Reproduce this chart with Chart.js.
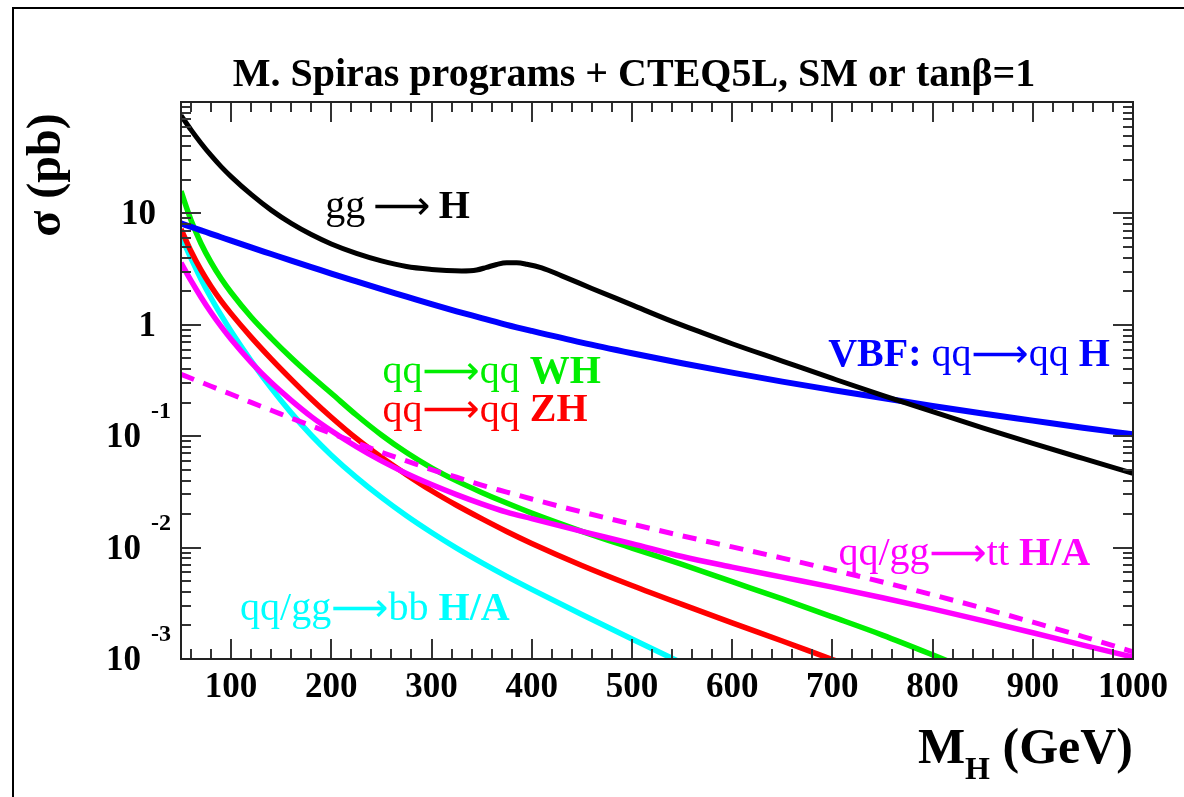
<!DOCTYPE html>
<html>
<head>
<meta charset="utf-8">
<script src="https://cdn.jsdelivr.net/npm/chart.js@4.4.1/dist/chart.umd.min.js"></script>
<style>
  html, body { margin: 0; padding: 0; background: #fff; }
  #wrap { width: 1184px; height: 797px; }
</style>
</head>
<body>
<div id="wrap"><canvas id="xsecChart" width="1184" height="797"></canvas></div>
<script>
// Higgs production cross sections (pb) vs M_H (GeV)
const masses = [50, 60, 70, 80, 90, 100, 120, 140, 160, 180, 200, 225, 250, 275, 300, 325, 350, 375, 400,
                450, 500, 550, 600, 650, 700, 750, 800, 850, 900, 950, 1000];

const ggMasses = [50, 60, 70, 80, 90, 100, 120, 140, 160, 180, 200, 225, 250, 275, 300, 315, 330, 345, 355, 365,
                  375, 385, 395, 410, 430, 460, 500, 535, 570, 600, 650, 700, 750, 800, 850, 900, 950, 1000];
const ggH = [75.9, 56.2, 42.7, 33.1, 26.3, 21.4, 14.8, 10.7, 8.13, 6.46, 5.32, 4.38, 3.75, 3.34, 3.14, 3.07, 3.04, 3.1, 3.28, 3.48,
             3.6, 3.6, 3.5, 3.25, 2.75, 2.12, 1.51, 1.12, 0.85, 0.676, 0.473, 0.33, 0.232, 0.166, 0.119, 0.0861, 0.0631, 0.0465];

const vbfH = [8.13, 7.57, 7.05, 6.56, 6.11, 5.69, 4.95, 4.32, 3.77, 3.30, 2.88, 2.45, 2.09, 1.79, 1.53, 1.32, 1.15, 1.0, 0.881,
              0.692, 0.556, 0.452, 0.372, 0.309, 0.26, 0.22, 0.187, 0.16, 0.138, 0.119, 0.104];

const qqWH = [15.8, 8.7, 5.37, 3.63, 2.6, 1.95, 1.175, 0.76, 0.506, 0.347, 0.243, 0.155, 0.1026, 0.0713, 0.052, 0.0397, 0.0313, 0.0251, 0.0204,
              0.014, 0.0099, 0.00706, 0.00494, 0.00346, 0.00239, 0.00164, 0.00109, 0.000714, null, null, null];

const qqZH = [7.24, 4.57, 3.09, 2.21, 1.64, 1.26, 0.776, 0.495, 0.324, 0.216, 0.148, 0.0955, 0.0646, 0.0452, 0.0324, 0.024, 0.0182, 0.01396, 0.0109,
              0.00692, 0.00457, 0.00309, 0.00211, 0.00145, 0.00099, 0.00068, null, null, null, null, null];

const ttHA = [3.6, 2.49, 1.77, 1.29, 0.966, 0.74, 0.46, 0.303, 0.21, 0.150, 0.112, 0.0805, 0.060, 0.0463, 0.0368, 0.0299, 0.0247, 0.0208, 0.0182,
              0.0140, 0.01084, 0.00832, 0.00668, 0.00543, 0.00442, 0.00355, 0.00282, 0.00221, 0.00172, 0.00133, 0.00104];

const ttHAdash = [0.36, 0.331, 0.305, 0.281, 0.258, 0.238, 0.201, 0.171, 0.145, 0.124, 0.106, 0.0873, 0.0718, 0.06, 0.0502, 0.0428, 0.0364, 0.0315, 0.0273,
                  0.0209, 0.01626, 0.01276, 0.01014, 0.00805, 0.00632, 0.00491, 0.00377, 0.00286, 0.00214, 0.00159, 0.00116];

const bbHA = [6.31, 3.94, 2.57, 1.74, 1.22, 0.875, 0.474, 0.27, 0.162, 0.102, 0.0676, 0.0427, 0.0282, 0.0193, 0.01365, 0.00989, 0.00733, 0.00552, 0.00422,
              0.00251, 0.00151, 0.00092, 0.00056, null, null, null, null, null, null, null, null];

const xTickLabels = [100, 200, 300, 400, 500, 600, 700, 800, 900, 1000];
const yDecades = [-3, -2, -1, 0, 1];

const SERIF = '"Liberation Serif", "DejaVu Serif", serif';
const ARROW = '\u27f6';

function pts(xs, ys) {
    return xs.map((m, i) => ({ x: m, y: ys[i] }));
}

function fnt(size, bold, sym) {
    if (sym) return size + 'px "DejaVu Sans", sans-serif';
    return (bold ? 'bold ' : '') + size + 'px ' + SERIF;
}

// draws a line of text made of regular / bold / symbol pieces
function drawParts(ctx, parts, x, y, align, size, color) {
    let total = 0;
    parts.forEach(p => {
        ctx.font = fnt(size, p.b, p.s);
        p.w = ctx.measureText(p.t).width;
        total += p.w;
    });
    let cx = align === 'right' ? x - total : x;
    ctx.fillStyle = color;
    ctx.textAlign = 'left';
    ctx.textBaseline = 'middle';
    parts.forEach(p => {
        ctx.font = fnt(size, p.b, p.s);
        ctx.fillText(p.t, cx, p.s ? y + 1 : y);
        cx += p.w;
    });
}

// curve labels, placed in data coordinates
const curveLabels = [
    { m: 194, v: 11.3, align: 'left', color: '#000000',
      parts: [{ t: 'gg\u2009' }, { t: ARROW, s: true }, { t: '\u2009' }, { t: 'H', b: true }] },
    { m: 977, v: 0.526, align: 'right', color: '#0000ff',
      parts: [{ t: 'VBF: ', b: true }, { t: 'qq' }, { t: ARROW, s: true }, { t: 'qq ' }, { t: 'H', b: true }] },
    { m: 251, v: 0.37, align: 'left', color: '#00ee00',
      parts: [{ t: 'qq' }, { t: ARROW, s: true }, { t: 'qq ' }, { t: 'WH', b: true }] },
    { m: 251, v: 0.168, align: 'left', color: '#ff0000',
      parts: [{ t: 'qq' }, { t: ARROW, s: true }, { t: 'qq ' }, { t: 'ZH', b: true }] },
    { m: 706, v: 0.00865, align: 'left', color: '#ff00ff',
      parts: [{ t: 'qq/gg' }, { t: ARROW, s: true }, { t: 'tt ' }, { t: 'H/A', b: true }] },
    { m: 109, v: 0.0028, align: 'left', color: '#00ffff',
      parts: [{ t: 'qq/gg' }, { t: ARROW, s: true }, { t: 'bb ' }, { t: 'H/A', b: true }] }
];

const decorPlugin = {
    id: 'rootStyle',
    beforeDraw(chart) {
        const ctx = chart.ctx;
        ctx.save();
        ctx.fillStyle = '#ffffff';
        ctx.fillRect(0, 0, chart.width, chart.height);
        ctx.restore();
    },
    afterDraw(chart) {
        const ctx = chart.ctx;
        const a = chart.chartArea;
        const xs = chart.scales.x, ys = chart.scales.y;
        ctx.save();

        // outer pad border
        ctx.strokeStyle = '#000';
        ctx.lineWidth = 2;
        ctx.beginPath();
        ctx.moveTo(13, 797);
        ctx.lineTo(13, 8);
        ctx.lineTo(1184, 8);
        ctx.stroke();

        // ticks, inside the frame on all sides
        ctx.strokeStyle = '#333';
        ctx.lineWidth = 2;
        ctx.beginPath();
        for (let m = 60; m < 1000; m += 20) {
            const px = Math.round(xs.getPixelForValue(m));
            const len = m % 100 === 0 ? 20 : 10;
            ctx.moveTo(px, a.bottom); ctx.lineTo(px, a.bottom - len);
            ctx.moveTo(px, a.top); ctx.lineTo(px, a.top + len);
        }
        for (let e = -3; e <= 1; e++) {
            for (let k = 1; k <= 9; k++) {
                const v = k * Math.pow(10, e);
                if (v <= 0.001 || v >= 100) continue;
                const py = Math.round(ys.getPixelForValue(v));
                const len = k === 1 ? 20 : 10;
                ctx.moveTo(a.left, py); ctx.lineTo(a.left + len, py);
                ctx.moveTo(a.right, py); ctx.lineTo(a.right - len, py);
            }
        }
        ctx.stroke();

        // frame
        ctx.strokeStyle = '#222';
        ctx.lineWidth = 2;
        ctx.strokeRect(a.left, a.top, a.right - a.left, a.bottom - a.top);

        // x tick labels
        ctx.fillStyle = '#000';
        ctx.font = fnt(35, true);
        ctx.textAlign = 'center';
        ctx.textBaseline = 'middle';
        xTickLabels.forEach(m => {
            ctx.fillText(String(m), xs.getPixelForValue(m), 688);
        });

        // y tick labels
        yDecades.forEach(e => {
            const py = ys.getPixelForValue(Math.pow(10, e));
            ctx.font = fnt(35, true);
            ctx.textBaseline = 'middle';
            ctx.textAlign = 'right';
            if (e >= 0) {
                ctx.fillText(e === 0 ? '1' : '10', 156, py + 2);
            } else {
                ctx.fillText('10', 141, py + 2);
                ctx.font = fnt(24, true);
                ctx.textAlign = 'left';
                ctx.fillText(String(e), 151, py - 24);
            }
        });

        // title
        ctx.font = fnt(40, true);
        ctx.textAlign = 'center';
        ctx.textBaseline = 'alphabetic';
        ctx.fillText('M. Spiras programs + CTEQ5L, SM or tan\u03b2=1', 634, 86);

        // y axis title
        ctx.save();
        ctx.translate(60, 175);
        ctx.rotate(-Math.PI / 2);
        ctx.font = fnt(48, true);
        ctx.textAlign = 'center';
        ctx.textBaseline = 'alphabetic';
        ctx.fillText('\u03c3 (pb)', 0, 0);
        ctx.restore();

        // x axis title M_H (GeV), right aligned on the frame
        ctx.textBaseline = 'alphabetic';
        ctx.textAlign = 'left';
        ctx.font = fnt(50, true);
        const wM = ctx.measureText('M').width;
        const wG = ctx.measureText(' (GeV)').width;
        ctx.font = fnt(32, true);
        const wH = ctx.measureText('H').width;
        const tx = a.right - (wM + wH + wG);
        ctx.font = fnt(50, true);
        ctx.fillText('M', tx, 763);
        ctx.font = fnt(32, true);
        ctx.fillText('H', tx + wM, 779);
        ctx.font = fnt(50, true);
        ctx.fillText(' (GeV)', tx + wM + wH, 763);

        // curve labels
        curveLabels.forEach(l => {
            drawParts(ctx, l.parts, xs.getPixelForValue(l.m), ys.getPixelForValue(l.v), l.align, 40, l.color);
        });

        ctx.restore();
    }
};

function series(data, color, width, dash) {
    return {
        data: data,
        borderColor: color,
        borderWidth: width,
        borderDash: dash || [],
        pointRadius: 0,
        fill: false,
        cubicInterpolationMode: 'monotone',
        spanGaps: false,
        clip: 0
    };
}

const ctx = document.getElementById('xsecChart').getContext('2d');
new Chart(ctx, {
    type: 'line',
    data: {
        datasets: [
            series(pts(ggMasses, ggH), '#000000', 5),
            series(pts(masses, vbfH), '#0000ff', 6),
            series(pts(masses, ttHAdash), '#ff00ff', 5, [14, 10]),
            series(pts(masses, ttHA), '#ff00ff', 5.5),
            series(pts(masses, qqWH), '#00ee00', 5.5),
            series(pts(masses, qqZH), '#ff0000', 5.5),
            series(pts(masses, bbHA), '#00ffff', 5.5)
        ]
    },
    options: {
        responsive: false,
        devicePixelRatio: 1,
        animation: false,
        layout: { padding: { left: 181, right: 51, top: 102, bottom: 138 } },
        plugins: { legend: { display: false }, tooltip: { enabled: false } },
        scales: {
            x: { type: 'linear', min: 50, max: 1000, display: false },
            y: { type: 'logarithmic', min: 0.001, max: 100, display: false }
        }
    },
    plugins: [decorPlugin]
});
</script>
</body>
</html>
